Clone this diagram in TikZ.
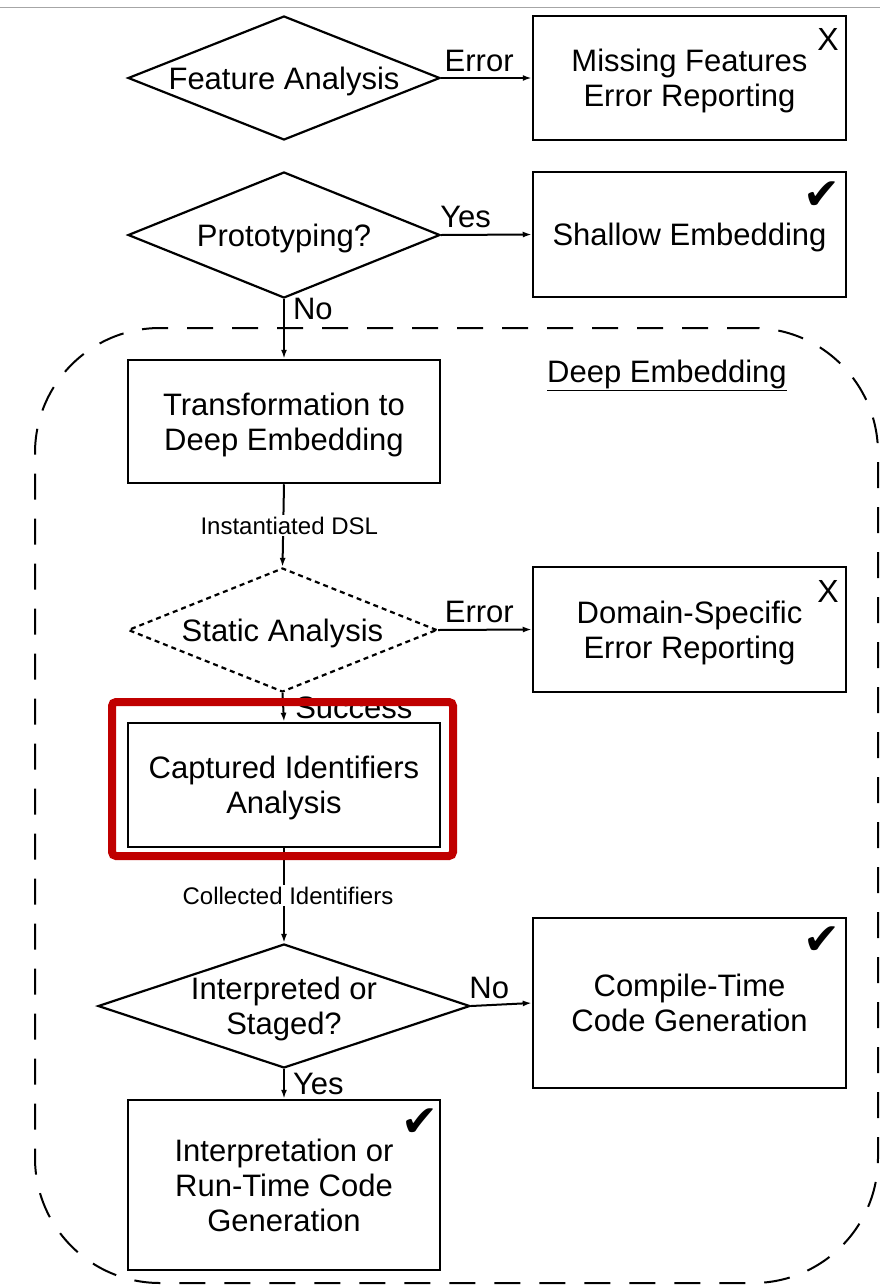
\documentclass[tikz,border=0pt]{standalone}
\usepackage{fontspec}
\setmainfont{Liberation Sans}
\newfontfamily\symfont{DejaVu Sans}
\usetikzlibrary{shapes.geometric,arrows.meta}
\definecolor{hl}{RGB}{192,0,0}
\begin{document}
\begin{tikzpicture}[x=1pt,y=-1pt,
 every node/.style={font=\fontsize{31}{35}\selectfont, align=center, text depth=0pt},
 box/.style={draw, line width=2.5pt, minimum width=312pt, minimum height=124pt, inner sep=0pt},
 dia/.style={draw, diamond, line width=2.2pt, inner sep=0pt, minimum width=312pt, minimum height=124pt},
 conn/.style={line width=2pt, -{Latex[length=9pt,width=6pt]}},
 lab/.style={inner sep=0pt},
 small/.style={font=\fontsize{24}{28}\selectfont, fill=white, inner sep=2pt},
 chk/.style={font=\symfont\fontsize{44}{44}\selectfont, inner sep=0pt},
 xchk/.style={font=\fontsize{32}{32}\selectfont, inner sep=0pt},
]
\useasboundingbox (0,0) rectangle (880,1288);
\draw[gray!70, line width=1pt] (0,7) -- (880,7);

% dashed deep embedding region
\node[draw, line width=2pt, dash pattern=on 26pt off 19pt, rounded corners=125pt,
      minimum width=843pt, minimum height=955pt, inner sep=0pt] (deep) at (456.5,805.5) {};
\node[lab] (deeplab) at (667,371) {\underline{Deep Embedding}};

% nodes
\node[dia] (fa) at (284,78) {};
\node[lab] (fat) at (fa) {Feature Analysis};
\node[box, minimum width=313pt] (mf) at (689.5,78) {Missing Features\\Error Reporting};
\node[xchk] (mfx) at (828,39) {X};

\node[dia, minimum height=126pt] (pr) at (284,235) {};
\node[lab] (prt) at (pr) {Prototyping?};
\node[box, minimum width=313pt, minimum height=125pt] (se) at (689.5,234.5) {Shallow Embedding};
\node[chk] (sec) at (822,196) {✔};

\node[box, minimum height=123pt] (tr) at (284,421.5) {Transformation to\\Deep Embedding};

\node[dia, dash pattern=on 5pt off 4pt, minimum width=309pt] (sa) at (282.5,630) {};
\node[lab] (sat) at (sa) {Static Analysis};
\node[box, minimum width=313pt, minimum height=125pt] (ds) at (689.5,629.5) {Domain-Specific\\Error Reporting};
\node[xchk] (dsx) at (828,591) {X};

\node[box] (ci) at (284,785) {Captured Identifiers\\Analysis};

\node[dia, minimum width=372pt] (id) at (284,1006) {};
\node[lab] (idt) at (id) {Interpreted or\\Staged?};
\node[box, minimum width=313pt, minimum height=170pt] (ct) at (689.5,1003) {Compile-Time\\Code Generation};
\node[chk] (ctc) at (822,941) {✔};

\node[box, minimum height=170pt] (ir) at (284,1185) {Interpretation or\\Run-Time Code\\Generation};
\node[chk] (irc) at (420,1123) {✔};

% connectors
\draw[conn] (fa.east) -- node[lab, pos=0.42, above=6pt] (l1) {Error} (mf.west);
\draw[conn] (pr.east) -- node[lab, pos=0.27, above=6pt] (l2) {Yes} (se.west);
\draw[conn] (pr.south) -- node[lab, pos=0.17, right=8pt] (l3) {No} (tr.north);
\draw[conn] (tr.south) -- node[small, xshift=6pt] (l4) {Instantiated DSL} (sa.north);
\draw[conn] (sa.east) -- node[lab, pos=0.44, above=6pt] (l5) {Error} (ds.west);
\draw[conn] (sa.south) -- node[lab, right=11pt] (l6) {Success} (ci.north);
\draw[conn] (ci.south) -- node[small, xshift=4pt] (l7) {Collected Identifiers} (id.north);
\draw[conn] (id.east) -- node[lab, pos=0.3, above=6pt] (l8) {No} (ct.west);
\draw[conn] (id.south) -- node[lab, right=8pt] (l9) {Yes} (ir.north);

% highlight
\node[draw=hl, line width=8pt, rounded corners=4pt, minimum width=341pt, minimum height=154pt, inner sep=0pt] (hlbox) at (282.5,779) {};
\end{tikzpicture}
\end{document}
